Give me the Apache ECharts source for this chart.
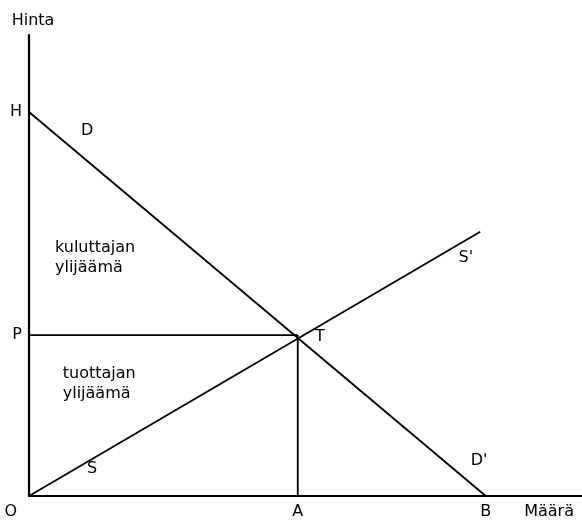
<!DOCTYPE html>
<html>
<head>
<meta charset="utf-8">
<script src="https://cdn.jsdelivr.net/npm/echarts@6/dist/echarts.min.js"></script>
<style>
  html, body { margin: 0; padding: 0; background: #fff; }
  #chart { width: 582px; height: 522px; }
</style>
</head>
<body>
<div id="chart"></div>
<script>
// price (y) and quantity (x) on a 0..100 scale
const priceTicks = [34.9, 83.3];
const priceTickLabels = ['P', 'H'];
const qtyTicks = [48.6, 82.6];
const qtyTickLabels = ['A', 'B'];

const demandLine = [[0, 83.3], [82.6, 0]];      // H -> B (D ... D')
const supplyLine = [[0, 0], [81.6, 57.3]];      // O -> S'
const priceLevel = [[0, 34.9], [48.6, 34.9]];   // P -> T
const qtyLevel = [[48.6, 0], [48.6, 34.9]];     // A -> T

// letters along the curves: [x, y, text]
const curveLabels = [
  [10.5, 79.2, 'D'],
  [81.4, 7.6, "D'"],
  [11.4, 5.9, 'S'],
  [79.0, 51.6, "S'"],
  [52.6, 34.5, 'T'],
  [-3.3, -3.5, 'O']
];
// area texts, left aligned: [x, y, text]
const areaLabels = [
  [4.7, 51.6, 'kuluttajan\nylijäämä'],
  [6.1, 24.4, 'tuottajan\nylijäämä']
];

const ink = '#000';
const font = 'DejaVu Sans';
const size = 16;

function lineSeries(data) {
  return {
    type: 'line',
    data: data,
    symbol: 'none',
    silent: true,
    lineStyle: { color: ink, width: 1.8 }
  };
}

function textSeries(data, align) {
  return {
    type: 'scatter',
    symbolSize: 0,
    clip: false,
    silent: true,
    itemStyle: { opacity: 1, color: ink },
    data: data.map(d => ({ value: [d[0], d[1]], name: d[2] })),
    label: {
      show: true, position: 'inside', align: align, formatter: p => p.name,
      color: ink, opacity: 1, textBorderWidth: 0, fontFamily: font, fontSize: size, lineHeight: 20
    }
  };
}

const chart = echarts.init(document.getElementById('chart'));
chart.setOption({
  animation: false,
  backgroundColor: '#fff',
  grid: { left: 29, right: 0, top: 35, bottom: 26, containLabel: false, outerBoundsMode: 'none' },
  xAxis: {
    type: 'value',
    min: 0,
    max: 100,
    name: 'Määrä',
    nameLocation: 'end',
    nameGap: 0,
    nameTextStyle: { color: ink, fontFamily: font, fontSize: size, align: 'right', verticalAlign: 'top', padding: [8, 8, 0, 0] },
    axisLine: { show: true, lineStyle: { color: ink, width: 1.8 } },
    axisTick: { show: false },
    splitLine: { show: false },
    axisLabel: {
      customValues: qtyTicks,
      formatter: v => qtyTickLabels[qtyTicks.indexOf(v)] || '',
      color: ink, fontFamily: font, fontSize: size, margin: 8
    }
  },
  yAxis: {
    type: 'value',
    min: 0,
    max: 100,
    name: 'Hinta',
    nameLocation: 'end',
    nameGap: 14,
    nameTextStyle: { color: ink, fontFamily: font, fontSize: size, align: 'center', verticalAlign: 'middle', padding: [0, 0, 0, 8] },
    axisLine: { show: true, lineStyle: { color: ink, width: 2.2 } },
    axisTick: { show: false },
    splitLine: { show: false },
    axisLabel: {
      customValues: priceTicks,
      formatter: v => priceTickLabels[priceTicks.indexOf(v)] || '',
      color: ink, fontFamily: font, fontSize: size, margin: 7
    }
  },
  series: [
    lineSeries(demandLine),
    lineSeries(supplyLine),
    lineSeries(priceLevel),
    lineSeries(qtyLevel),
    textSeries(curveLabels, 'center'),
    textSeries(areaLabels, 'left')
  ]
});
</script>
</body>
</html>
